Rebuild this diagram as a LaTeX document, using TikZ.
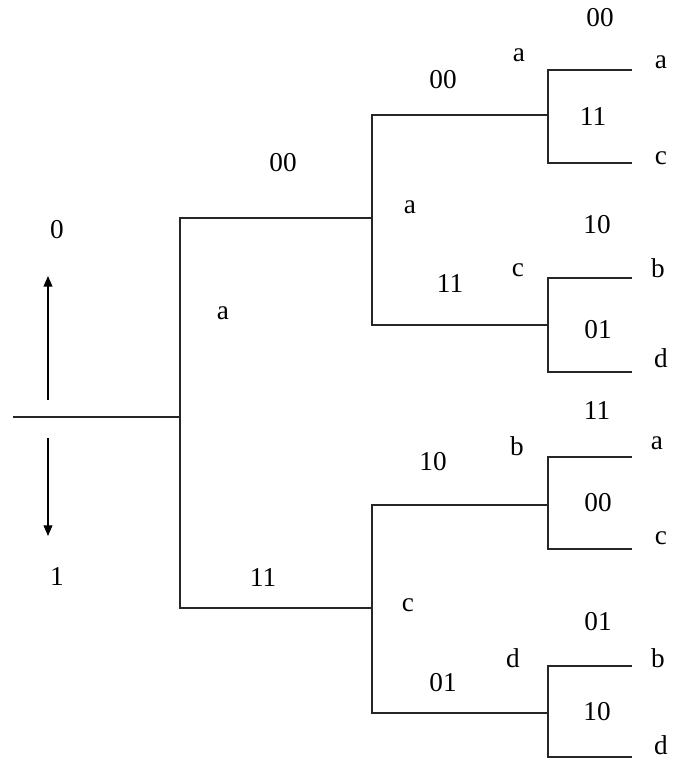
\documentclass[tikz,border=0pt]{standalone}
\usepackage{fontspec}
\setmainfont{Liberation Serif}
\usetikzlibrary{arrows.meta}

\begin{document}
\begin{tikzpicture}[
    x=0.02cm, y=-0.02cm,
    branch/.style={line width=0.6pt, black!85},
    lbl/.style={font=\fontsize{15.5}{17}\selectfont, inner sep=0pt},
    dirarr/.style={-{Triangle[length=6pt,width=5pt]}, line width=0.6pt}
]
\useasboundingbox (0,0) rectangle (676,759);

% branching points
\coordinate (root) at (13,417);
\coordinate (n0) at (180,417);
\coordinate (sa) at (372,218);
\coordinate (sc) at (372,608);
\coordinate (taa) at (548,115);
\coordinate (tac) at (548,325);
\coordinate (tcb) at (548,505);
\coordinate (tcd) at (548,713);
% leaf ends
\coordinate (e1) at (632,70);   \coordinate (e2) at (632,163);
\coordinate (e3) at (632,278);  \coordinate (e4) at (632,372);
\coordinate (e5) at (632,457);  \coordinate (e6) at (632,549);
\coordinate (e7) at (632,666);  \coordinate (e8) at (632,757);

\draw[branch] (root) -- (n0);
\draw[branch] (n0) |- (sa);
\draw[branch] (n0) |- (sc);
\draw[branch] (sa) |- (taa);
\draw[branch] (sa) |- (tac);
\draw[branch] (sc) |- (tcb);
\draw[branch] (sc) |- (tcd);
\draw[branch] (taa) |- (e1);
\draw[branch] (taa) |- (e2);
\draw[branch] (tac) |- (e3);
\draw[branch] (tac) |- (e4);
\draw[branch] (tcb) |- (e5);
\draw[branch] (tcb) |- (e6);
\draw[branch] (tcd) |- (e7);
\draw[branch] (tcd) |- (e8);

% input bit arrows
\node[lbl] (bit0) at (57,230) {0};
\node[lbl] (bit1) at (57,577) {1};
\coordinate (up0) at (48,400);  \coordinate (up1) at (48,276);
\coordinate (dn0) at (48,438);  \coordinate (dn1) at (48,536);
\draw[dirarr] (up0) -- (up1);
\draw[dirarr] (dn0) -- (dn1);

% first level
\node[lbl] (o1) at (283,163) {00};
\node[lbl] (q1) at (223,313) {a};
\node[lbl] (o2) at (263,578) {11};
\node[lbl] (q2) at (408,605) {c};

% second level
\node[lbl] (o3) at (443,80) {00};
\node[lbl] (q3) at (519,55) {a};
\node[lbl] (q4) at (410,207) {a};
\node[lbl] (o4) at (450,284) {11};
\node[lbl] (q5) at (518,270) {c};
\node[lbl] (o5) at (433,462) {10};
\node[lbl] (q6) at (517,446) {b};
\node[lbl] (o6) at (443,683) {01};
\node[lbl] (q7) at (513,658) {d};

% third level
\node[lbl] (o7) at (600,18) {00};
\node[lbl] (o8) at (593,117) {11};
\node[lbl] (q8) at (661,62) {a};
\node[lbl] (q9) at (661,158) {c};
\node[lbl] (o9) at (597,225) {10};
\node[lbl] (o10) at (598,330) {01};
\node[lbl] (q10) at (658,268) {b};
\node[lbl] (q11) at (661,358) {d};
\node[lbl] (o11) at (597,411) {11};
\node[lbl] (o12) at (598,503) {00};
\node[lbl] (q12) at (657,443) {a};
\node[lbl] (q13) at (661,538) {c};
\node[lbl] (o13) at (598,622) {01};
\node[lbl] (o14) at (597,712) {10};
\node[lbl] (q14) at (658,658) {b};
\node[lbl] (q15) at (661,745) {d};
\end{tikzpicture}
\end{document}
